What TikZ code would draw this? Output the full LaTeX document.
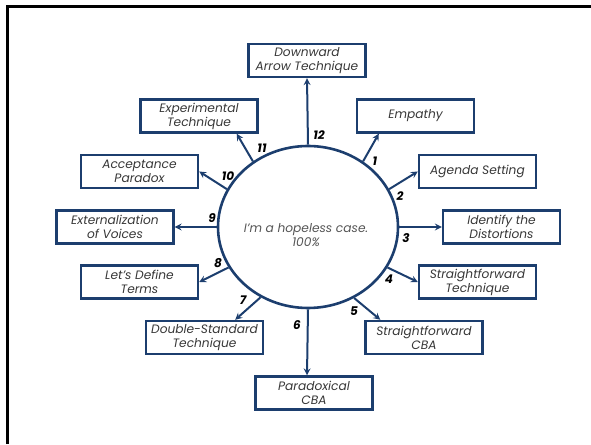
\documentclass[tikz,border=0pt]{standalone}
\usepackage{fontspec}
\setmainfont{Poppins}
\usetikzlibrary{shapes.geometric, positioning, arrows}
\definecolor{navy}{RGB}{28,62,110}
\definecolor{inkgray}{RGB}{55,55,55}
\tikzset{
>=stealth, % makes the arrow heads sharp
tech/.style={draw=navy, line width=2.4pt, minimum width=117pt, minimum height=33pt, inner sep=1pt, align=center, text=inkgray, font=\itshape\fontsize{12.2}{14}\selectfont}, % the technique boxes
hub/.style={ellipse, draw=navy, line width=2.6pt, minimum width=180pt, minimum height=162pt, inner sep=0pt}, % the central thought
num/.style={font=\bfseries\itshape\fontsize{12}{12}\selectfont}, % the step numbers
link/.style={->, color=navy, line width=2pt}, % hub to box
}
\begin{document}
\begin{tikzpicture}[x=1pt, y=1pt]
        \useasboundingbox (0,0) rectangle (591,444);
        \draw[line width=2.8pt] (7.5,0) -- (7.5,437.5) -- (591,437.5);

        \node[hub] (hub) at (308,217) {};
        \node[align=center, text=inkgray!85, font=\itshape\fontsize{12.2}{14}\selectfont] (claim) at (306,209) {I'm a hopeless case.\\100\%};

        \node[tech] (down)     at (307,383.5) {Downward\\Arrow Technique};
        \node[tech] (empathy)  at (415.5,328) {Empathy};
        \node[tech] (agenda)   at (477.5,272.5) {Agenda Setting};
        \node[tech] (identify) at (501.5,217) {Identify the\\Distortions};
        \node[tech] (sftech)   at (477.5,162) {Straightforward\\Technique};
        \node[tech] (sfcba)    at (424,106.5) {Straightforward\\CBA};
        \node[tech] (paracba)  at (314,51) {Paradoxical\\CBA};
        \node[tech] (double)   at (204.5,106.5) {Double-Standard\\Technique};
        \node[tech] (define)   at (139.5,162) {Let's Define\\Terms};
        \node[tech] (extern)   at (115,217) {Externalization\\of Voices};
        \node[tech] (accept)   at (139.5,272.5) {Acceptance\\Paradox};
        \node[tech] (experim)  at (199,328) {Experimental\\Technique};

        \node[num] (n1)  at (375,283) {1};
        \node[num] (n2)  at (400,248) {2};
        \node[num] (n3)  at (406,206) {3};
        \node[num] (n4)  at (389,165) {4};
        \node[num] (n5)  at (354,133) {5};
        \node[num] (n6)  at (297,119) {6};
        \node[num] (n7)  at (243,144) {7};
        \node[num] (n8)  at (218,181) {8};
        \node[num] (n9)  at (212,226) {9};
        \node[num] (n10) at (228,268) {10};
        \node[num] (n11) at (262,296) {11};
        \node[num] (n12) at (319,309) {12};

        \path[link]
        (hub.90)  edge (down.south)
        (hub.50)  edge ([xshift=23pt]empathy.south west)
        (hub.25)  edge (agenda.west)
        (hub.0)   edge (identify.west)
        (hub.-27) edge (sftech.west)
        (hub.-57) edge ([xshift=16pt]sfcba.north west)
        (hub.-90) edge ([xshift=-7pt]paracba.north)
        (hub.236) edge ([xshift=-29pt]double.north east)
        (hub.207) edge (define.east)
        (hub.180) edge (extern.east)
        (hub.155) edge (accept.east)
        (hub.130) edge ([xshift=-22pt]experim.south east);
    \end{tikzpicture}
\end{document}
